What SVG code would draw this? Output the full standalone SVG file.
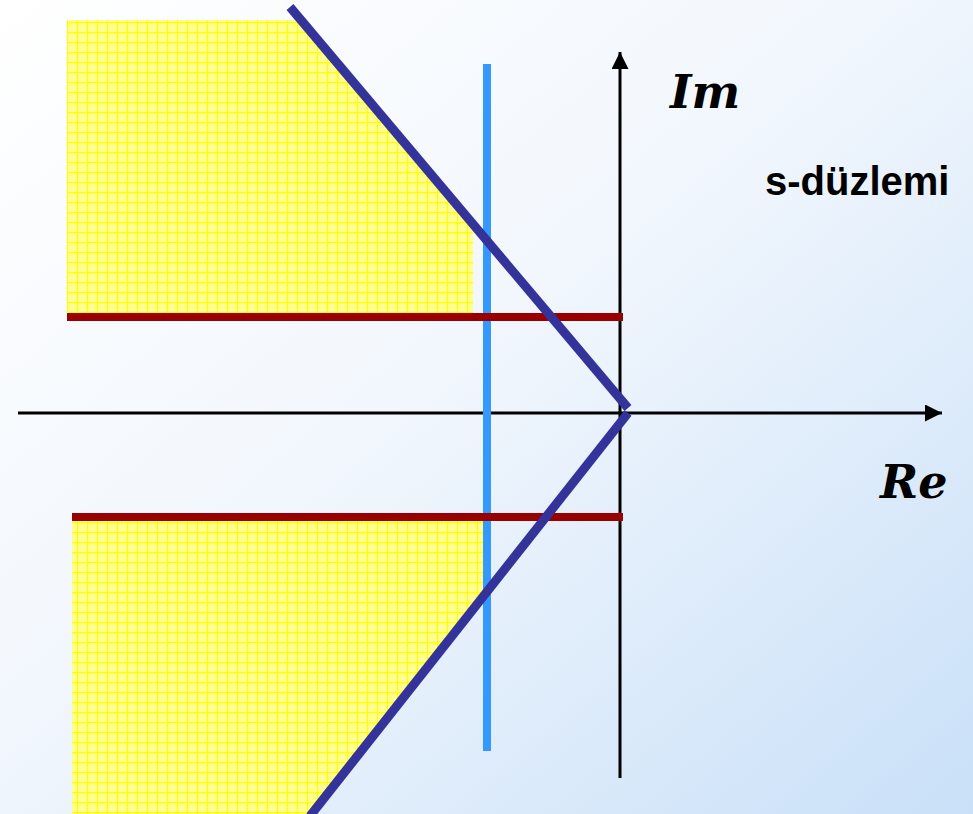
<svg xmlns="http://www.w3.org/2000/svg" width="973" height="814" viewBox="0 0 973 814">
<defs>
<linearGradient id="bg" x1="0" y1="0" x2="1" y2="1">
<stop offset="0" stop-color="#ffffff"/>
<stop offset="0.45" stop-color="#f2f7fd"/>
<stop offset="1" stop-color="#c9e0f8"/>
</linearGradient>
<pattern id="grid" patternUnits="userSpaceOnUse" width="10" height="10" x="7" y="2">
<rect width="10" height="10" fill="#ffff90"/>
<path d="M0 0.5H10M0.5 0V10" stroke="#ffff00" stroke-width="1.3" fill="none"/>
</pattern>
<marker id="arr" viewBox="0 0 10 10" refX="10" refY="5" markerWidth="17" markerHeight="17" markerUnits="userSpaceOnUse" orient="auto">
<path d="M0 0L10 5L0 10Z" fill="#000"/>
</marker>
<style>
.axis{stroke:#000;stroke-width:3;fill:none}
.red{stroke:#990000;stroke-width:8}
.diag{stroke:#333399;stroke-width:9;fill:none}
.blue{stroke:#3399ff;stroke-width:8}
.script{font-family:"DejaVu Serif",serif;font-weight:bold;font-style:italic;font-size:46px;fill:#000}
.lbl{font-family:"Liberation Sans",Arial,sans-serif;font-weight:bold;font-size:40px;fill:#000}
</style>
</defs>
<rect width="973" height="814" fill="url(#bg)"/>
<g id="regions">
<polygon id="region-upper" points="67,20 301,20 473,224 473,315 67,315" fill="url(#grid)"/>
<polygon id="region-lower" points="72,517 483,517 483,595 310,814 72,814" fill="url(#grid)"/>
</g>
<g id="connectors">
<line class="axis" x1="620" y1="778" x2="620" y2="52" marker-end="url(#arr)"/>
<line class="axis" x1="18" y1="413" x2="942" y2="413" marker-end="url(#arr)"/>
<line class="blue" x1="487" y1="64" x2="487" y2="751"/>
<line class="red" x1="67" y1="317" x2="623" y2="317"/>
<line class="red" x1="72" y1="517" x2="623" y2="517"/>
<line class="diag" x1="290" y1="7" x2="628" y2="408"/>
<line class="diag" x1="628" y1="413" x2="310" y2="816"/>
</g>
<g id="labels">
<text class="script" x="670" y="108">Im</text>
<text class="script" x="880" y="498">Re</text>
<text class="lbl" x="765" y="195">s-düzlemi</text>
</g>
</svg>
